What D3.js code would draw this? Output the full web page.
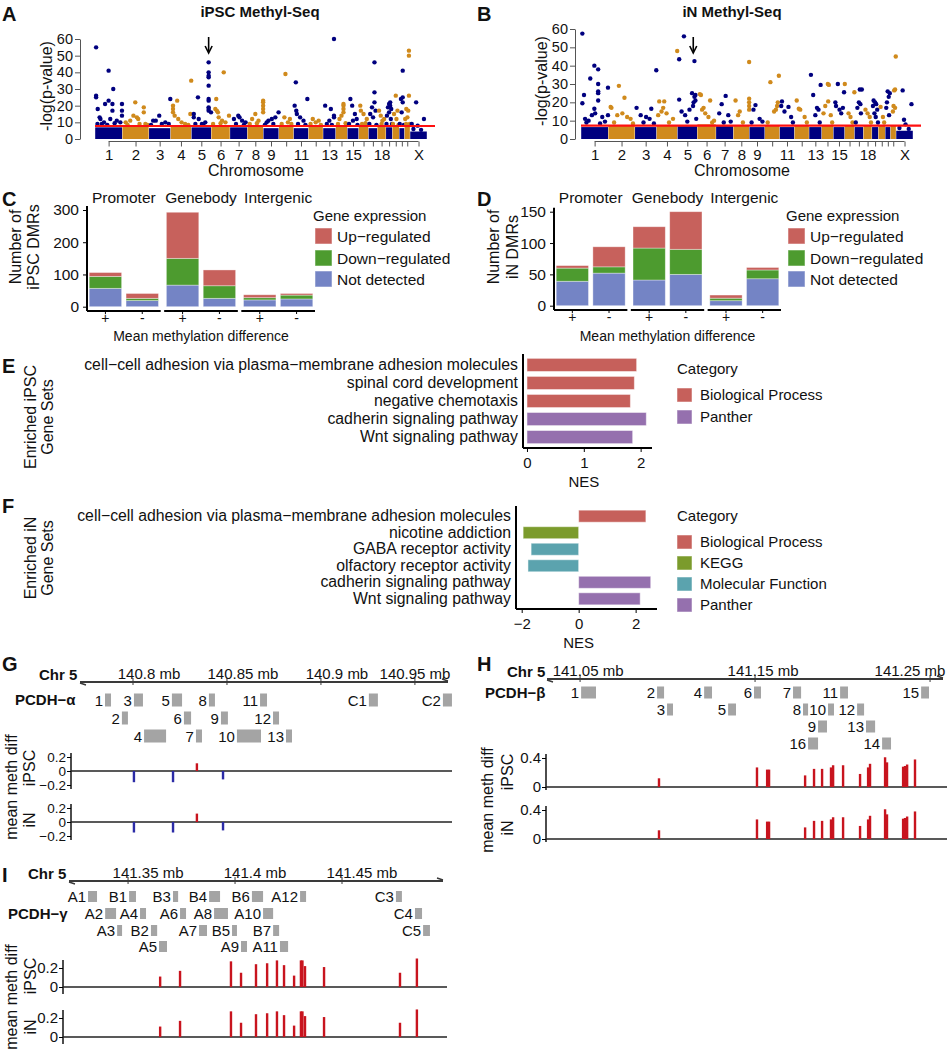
<!DOCTYPE html>
<html>
<head>
<meta charset="utf-8">
<script src="https://cdn.jsdelivr.net/npm/d3@7"></script>
<style>
  body { margin: 0; background: #fff; }
  svg { display: block; }
  text { font-family: "Liberation Sans", Arial, sans-serif; fill: #111; }
</style>
</head>
<body>
<svg id="fig" width="951" height="1050"></svg>
<script>
// ---------- data ----------
var chromNames = ["1","2","3","4","5","6","7","8","9","10","11","12","13","14","15","16","17","18","19","20","21","22","X"];
var chromLengths = [249,243,198,191,181,171,159,146,141,136,135,134,115,107,103,90,81,78,59,63,48,51,155];
var chromTickLabels = ["1","2","3","4","5","6","7","8","9","11","13","15","18","X"];

// top of the dense cloud of non-significant DMRs per chromosome
var ipscFloor = [7,8,6.5,8,7,8,7,8,6.5,7.5,6.5,7.5,6.5,8,6.5,8,6.5,7.5,7,8,6.5,8,4.5];
var inFloor   = [6.5,7.5,6.5,7.5,7,8,7,7.5,6.5,7.5,6.5,7.5,6.5,7.5,6.5,7.5,6.5,7.5,6.5,7.5,6.5,7.5,4.5];
var ipscThreshold = 7.8, inThreshold = 7.3;

// [chromosome index, position within chromosome (0-1), -log(p)]
var ipscHits = [
  [0,.04,55],[0,.04,26],[0,.04,25],[0,.1,18],[0,.5,41],[0,.67,30],[0,.5,23],[0,.37,21],[0,.64,21],[0,.64,17],[0,.56,12],[0,.2,12],[0,.8,11],[0,.93,10],[0,.33,10],[0,.17,13],[0,.09,9],[0,.99,21],[0,.99,17],[0,.99,14],
  [0,.25,9],[0,.45,8.5],[0,.72,9.5],
  [1,.49,22],[1,.81,19],[1,.81,16],[1,.42,14],[1,.55,13],[1,.6,12],[1,.3,11],[1,.13,10],[1,.87,9],[1,.2,8.5],[1,.65,9],[1,.95,8.5],
  [2,.48,14],[2,.2,11],[2,.76,10],[2,.92,9],[2,.32,11],[2,.99,24],[2,.1,8.5],[2,.6,9],
  [3,.32,23],[3,.12,20],[3,.12,18],[3,.12,16],[3,.2,14],[3,.37,12],[3,.53,10],[3,.99,35],[3,.95,15],[3,.7,9],[3,.85,8.5],
  [4,.33,25],[4,.87,46],[4,.87,40],[4,.87,38],[4,.87,37],[4,.87,32],[4,.87,24],[4,.87,23],[4,.87,19],[4,.87,18],[4,.87,17],[4,.99,16],[4,.12,15],[4,.12,13],[4,.37,12],[4,.53,9],[4,.7,10],[4,.2,9],[4,.6,8.5],
  [5,.67,40],[5,.27,24],[5,.22,18],[5,.3,17],[5,.36,16],[5,.95,14],[5,.4,13],[5,.58,11],[5,.76,10],[5,.1,9],[5,.5,9.5],
  [6,.48,14],[6,.55,13],[6,.23,12],[6,.7,11],[6,.9,10],[6,.35,9],[6,.8,8.5],
  [7,.99,23],[7,.99,22],[7,.99,20],[7,.99,18],[7,.99,16],[7,.5,15],[7,.3,12],[7,.7,11],[7,.15,9],[7,.6,9.5],
  [8,.99,16],[8,.78,13],[8,.55,12],[8,.33,11],[8,.22,10],[8,.1,8.5],[8,.65,9],
  [9,.45,39],[9,.38,13],[9,.75,12],[9,.62,10],[9,.2,9],[9,.85,9],
  [10,.15,34],[10,.07,20],[10,.18,17],[10,.22,15],[10,.44,13],[10,.93,24],[10,.67,11],[10,.3,9],[10,.8,8.5],
  [11,.3,12],[11,.7,11],[11,.5,10],[11,.15,9],[11,.85,8.5],
  [12,.87,60],[12,.17,20],[12,.62,18],[12,.87,14],[12,.87,13],[12,.5,11],[12,.3,9],[12,.7,8.5],
  [13,.67,21],[13,.67,20],[13,.67,18],[13,.67,16],[13,.5,14],[13,.33,12],[13,.2,9],[13,.85,9.5],
  [14,.27,24],[14,.43,20],[14,.67,15],[14,.83,12],[14,.5,11],[14,.15,9],[14,.9,8.5],
  [15,.17,20],[15,.23,17],[15,.5,15],[15,.83,12],[15,.35,9],[15,.7,9.5],
  [16,.68,46],[16,.68,28],[16,.68,22],[16,.4,19],[16,.8,17],[16,.2,15],[16,.52,13],[16,.1,9],[16,.9,8.5],
  [17,.2,17],[17,.4,14],[17,.8,12],[17,.6,11],[17,.5,9],
  [18,.67,22],[18,.5,21],[18,.67,20],[18,.33,19],[18,.83,18],[18,.5,16],[18,.17,14],[18,.77,12],[18,.1,9],[18,.95,9],
  [19,.5,26],[19,.75,17],[19,.25,15],[19,.6,12],[19,.1,9],[19,.9,8.5],
  [20,.67,41],[20,.67,25],[20,.33,24],[20,.67,22],[20,.47,16],[20,.1,9],[20,.9,8.5],
  [21,.8,53],[21,.8,50],[21,.8,26],[21,.33,18],[21,.67,17],[21,.53,13],[21,.13,12],[21,.3,9],[21,.95,9],
  [22,.36,22],[22,.82,12],[22,.45,8],[22,.1,9],[22,.2,6],[22,.65,5.5]
];
var inHits = [
  [0,.05,57.5],[0,.11,24],[0,.05,19.5],[0,.49,40],[0,.63,38],[0,.34,33],[0,.63,30],[0,.63,26],[0,.63,25],[0,.63,21],[0,.49,16.5],[0,.52,14],[0,.4,13],[0,.78,12],[0,.15,11],[0,.28,10],[0,.99,28],[0,.99,13],[0,.2,9],[0,.7,8.5],[0,.88,9.5],
  [1,.4,29],[1,.61,22.5],[1,.09,17.5],[1,.12,17],[1,.53,14],[1,.34,13],[1,.71,12],[1,.84,11],[1,.22,9],[1,.93,8.5],
  [2,.08,17],[2,.76,16.5],[2,.27,13],[2,.52,12],[2,.68,11],[2,.99,37.5],[2,.4,9],[2,.88,8.5],
  [3,.13,20.5],[3,.37,20.5],[3,.32,17],[3,.24,15],[3,.48,14],[3,.08,13],[3,.79,11],[3,.99,48],[3,.6,9],
  [4,.09,43.5],[4,.33,56],[4,.86,42.5],[4,.74,25],[4,.91,24],[4,.86,23],[4,.91,21],[4,.82,20],[4,.79,18],[4,.61,16],[4,.21,15],[4,.09,21.5],[4,.39,13],[4,.5,9.5],[4,.95,11],
  [5,.14,24.5],[5,.2,24],[5,.69,21],[5,.34,17],[5,.26,16],[5,.43,14],[5,.6,12],[5,.8,9],[5,.9,10],
  [6,.56,23.5],[6,.33,19],[6,.19,14],[6,.71,13],[6,.45,9],[6,.85,9.5],
  [7,.14,21],[7,.4,15],[7,.3,13],[7,.99,42],[7,.99,22],[7,.99,20],[7,.99,18],[7,.99,16],[7,.6,9],
  [8,.4,18.5],[8,.27,16],[8,.67,11],[8,.15,9],[8,.85,9.5],
  [9,.38,31],[9,.95,34.5],[9,.88,20],[9,.83,18],[9,.75,16],[9,.63,15],[9,.2,9],
  [10,.16,20.5],[10,.11,18],[10,.6,17.5],[10,.33,15],[10,.78,12],[10,.9,9],
  [11,.16,21],[11,.3,16.5],[11,.4,16],[11,.7,12],[11,.85,9],
  [12,.15,35],[12,.33,24],[12,.63,17],[12,.75,16],[12,.5,13],[12,.92,29.5],[12,.85,9],
  [13,.53,30],[13,.62,29.5],[13,.56,20.5],[13,.31,18],[13,.16,14],[13,.78,13],[13,.9,9],
  [14,.4,30],[14,.18,20],[14,.24,18],[14,.55,16],[14,.7,14],[14,.95,25.5],[14,.85,17],
  [15,.02,30],[15,.4,14],[15,.6,12],[15,.99,25.5],[15,.8,9],
  [16,.6,27],[16,.83,27],[16,.5,20],[16,.67,19],[16,.33,17],[16,.73,14],[16,.15,9],
  [17,.25,16],[17,.5,14],[17,.75,12],[17,.9,9],
  [18,.27,21],[18,.5,20],[18,.67,19],[18,.17,18],[18,.83,16],[18,.4,14],[18,.6,12],[18,.95,9],
  [19,.33,17.5],[19,.67,12],[19,.85,9],
  [20,.47,26],[20,.87,25],[20,.67,23],[20,.33,20],[20,.2,17],[20,.73,13],
  [21,.95,45],[21,.83,27],[21,.67,26.5],[21,.55,18],[21,.83,17],[21,.44,15],
  [22,.39,26.5],[22,.91,19],[22,.47,10.5],[22,.56,8],[22,.2,6],[22,.75,5.5]
];
// where the arrow points (PCDH cluster on chr 5)
var ipscArrow = [4, 0.87], inArrow = [4, 0.8];

// DMR counts, order: Promoter +, Promoter -, Genebody +, Genebody -, Intergenic +, Intergenic -
var regions = ["Promoter", "Genebody", "Intergenic"];
var directions = ["+", "-"];
var ipscNotDetected = [57, 19, 67, 26, 21, 24];
var ipscDown        = [37,  7, 83, 39,  7, 12];
var ipscUp          = [12, 15, 143, 49, 9,  5];
var inNotDetected   = [39, 52, 41, 50,  8, 43];
var inDown          = [21, 10, 51, 40,  4, 14];
var inUp            = [ 4, 32, 34, 60,  5,  4];

// GSEA
var ipscSets = ["cell\u2212cell adhesion via plasma\u2212membrane adhesion molecules", "spinal cord development", "negative chemotaxis", "cadherin signaling pathway", "Wnt signaling pathway"];
var ipscNES = [1.93, 1.89, 1.82, 2.10, 1.86];
var ipscCategory = ["Biological Process", "Biological Process", "Biological Process", "Panther", "Panther"];
var inSets = ["cell\u2212cell adhesion via plasma\u2212membrane adhesion molecules", "nicotine addiction", "GABA receptor activity", "olfactory receptor activity", "cadherin signaling pathway", "Wnt signaling pathway"];
var inNES = [2.36, -1.95, -1.67, -1.78, 2.53, 2.16];
var inCategory = ["Biological Process", "KEGG", "Molecular Function", "Molecular Function", "Panther", "Panther"];

// PCDH loci: [name, start mb, end mb, row]
var alphaGenes = [
  ["1",140.7851,140.7883,0],["3",140.8005,140.8053,0],["5",140.8207,140.8261,0],["8",140.8404,140.8436,0],["11",140.8676,140.8713,0],["C1",140.9255,140.9303,0],["C2",140.9649,140.9697,0],
  ["2",140.7941,140.7973,1],["6",140.8271,140.8309,1],["9",140.8468,140.8505,1],["12",140.8745,140.8777,1],
  ["4",140.8059,140.8176,2],["7",140.8335,140.8367,2],["10",140.8553,140.8681,2],["13",140.8814,140.8846,2]
];
var betaGenes = [
  ["1",141.0506,141.0591,0],["2",141.0940,141.0980,0],["4",141.1209,141.1254,0],["6",141.1494,141.1534,0],["7",141.1717,141.1763,0],["11",141.1986,141.2031,0],["15",141.2449,141.2494,0],
  ["3",141.0997,141.1031,1],["5",141.1346,141.1391,1],["8",141.1774,141.1803,1],["10",141.1917,141.1951,1],["12",141.2083,141.2123,1],
  ["9",141.1860,141.1911,2],["13",141.2134,141.2186,2],
  ["16",141.1803,141.1860,3],["14",141.2226,141.2277,3]
];
var gammaGenes = [
  ["A1",141.3313,141.3355,0],["B1",141.3505,141.3537,0],["B3",141.3710,141.3734,0],["B4",141.3879,141.3930,0],["B6",141.4079,141.4131,0],["A12",141.4304,141.4332,0],["C3",141.4752,141.4780,0],
  ["A2",141.3393,141.3444,1],["A4",141.3556,141.3584,1],["A6",141.3743,141.3771,1],["A8",141.3902,141.3967,1],["A10",141.4131,141.4178,1],["C4",141.4841,141.4874,1],
  ["A3",141.3449,141.3472,2],["B2",141.3607,141.3636,2],["A7",141.3832,141.3869,2],["B5",141.3986,141.4009,2],["B7",141.4178,141.4206,2],["C5",141.4879,141.4911,2],
  ["A5",141.3645,141.3682,3],["A9",141.4028,141.4056,3],["A11",141.4210,141.4248,3]
];
var alphaTicks = [140.8, 140.85, 140.9, 140.95];
var betaTicks = [141.05, 141.15, 141.25];
var gammaTicks = [141.35, 141.4, 141.45];

// mean methylation difference per DMR
var alphaDmr  = [140.8005, 140.8213, 140.8340, 140.8479];
var alphaIpsc = [-0.16, -0.16, 0.11, -0.12];
var alphaIn   = [-0.15, -0.15, 0.12, -0.12];
var betaDmr  = [141.0951,141.1511,141.1569,141.1580,141.1786,141.1837,141.1883,141.1934,141.1946,141.2003,141.2100,141.2146,141.2157,141.2243,141.2254,141.2346,141.2357,141.2369,141.2414];
var betaIpsc = [0.12,0.27,0.24,0.24,0.16,0.25,0.25,0.27,0.30,0.30,0.18,0.27,0.32,0.41,0.34,0.28,0.29,0.31,0.38];
var betaIn   = [0.12,0.27,0.24,0.24,0.16,0.25,0.25,0.27,0.30,0.30,0.18,0.27,0.32,0.41,0.34,0.28,0.29,0.31,0.38];
var gammaDmr  = [141.3650,141.3743,141.3981,141.4028,141.4098,141.4150,141.4196,141.4229,141.4276,141.4308,141.4315,141.4327,141.4416,141.4771,141.4850];
var gammaIpsc = [0.11,0.17,0.27,0.15,0.24,0.25,0.28,0.23,0.12,0.28,0.28,0.22,0.21,0.15,0.30];
var gammaIn   = [0.11,0.17,0.27,0.15,0.24,0.25,0.27,0.23,0.12,0.27,0.27,0.22,0.21,0.15,0.29];

// ---------- drawing ----------
var svg = d3.select("#fig");
var navy = "#00007f", orange = "#d08a1c";
var exprColors = { nd: "#7484c5", down: "#4d9b2f", up: "#c7615c" };
var catColors = { "Biological Process": "#c6605b", "KEGG": "#7b9b2c", "Molecular Function": "#5ba3ae", "Panther": "#9570ae" };

function label(g, x, y, str, size, anchor, weight) {
  return g.append("text").attr("x", x).attr("y", y).attr("font-size", size)
    .attr("text-anchor", anchor || "start").attr("font-weight", weight || "normal").text(str);
}
function vlabel(g, x, y, str, size) {
  return g.append("text").attr("transform", "translate(" + x + "," + y + ") rotate(-90)")
    .attr("font-size", size).attr("text-anchor", "middle").attr("dy", "0.35em").text(str);
}
function styleAxis(a, size) {
  a.attr("font-family", null).attr("font-size", size);
  a.selectAll("text").attr("fill", "#111");
}

// panel letters
[["A",2,21],["B",477,21],["C",2,206],["D",477,206],["E",2,373],["F",2,513],["G",2,671],["H",477,671],["I",2,882]].forEach(function(p) {
  label(svg, p[1], p[2], p[0], 20, "start", "bold");
});

// Manhattan plots
function drawManhattan(o) {
  var g = svg.append("g");
  var ends = Array.from(d3.cumsum(chromLengths));
  var starts = ends.map(function(e, i) { return e - chromLengths[i]; });
  var x = d3.scaleLinear().domain([0, d3.sum(chromLengths)]).range([o.x0, o.x1]);
  var y = d3.scaleLinear().domain([0, 60]).range([o.yBase, o.yTop]);
  var pos = function(c, f) { return x(starts[c] + f * chromLengths[c]); };

  label(g, o.titleX, 17, o.title, 15, "middle", "bold");

  g.selectAll("rect.cloud").data(o.floor).join("rect").attr("class", "cloud")
    .attr("x", function(d, i) { return x(starts[i]) + 0.2; })
    .attr("width", function(d, i) { return x(ends[i]) - x(starts[i]) - 0.4; })
    .attr("y", function(d) { return y(d); })
    .attr("height", function(d) { return y(0) - y(d); })
    .attr("fill", function(d, i) { return i % 2 ? orange : navy; });

  g.selectAll("circle").data(o.hits).join("circle")
    .attr("cx", function(d) { return pos(d[0], d[1]); })
    .attr("cy", function(d) { return y(d[2]); })
    .attr("r", 2.2)
    .attr("fill", function(d) { return d[0] % 2 ? orange : navy; });

  g.append("line").attr("x1", o.x0).attr("x2", o.x1 + 8)
    .attr("y1", y(o.threshold)).attr("y2", y(o.threshold))
    .attr("stroke", "#ff1010").attr("stroke-width", 2.2);

  // arrow to the PCDH locus
  var ax = pos(o.arrow[0], o.arrow[1]);
  g.append("line").attr("x1", ax).attr("x2", ax).attr("y1", 37).attr("y2", 51)
    .attr("stroke", "#000").attr("stroke-width", 1.6);
  g.append("path").attr("d", "M" + (ax - 3.5) + ",46L" + ax + ",53L" + (ax + 3.5) + ",46")
    .attr("fill", "none").attr("stroke", "#000").attr("stroke-width", 1.6);

  var ya = g.append("g").attr("transform", "translate(" + o.axisX + ",0)")
    .call(d3.axisLeft(y).tickValues(d3.range(0, 61, 10)).tickSize(5).tickSizeOuter(0).tickPadding(2));
  styleAxis(ya, 14.5);
  ya.select(".domain").attr("stroke", "#555");
  ya.selectAll(".tick line").attr("stroke", "#555");

  var centers = chromNames.map(function(n, i) { return (starts[i] + ends[i]) / 2; });
  var xa = g.append("g").attr("transform", "translate(0," + (o.yBase + 2.5) + ")")
    .call(d3.axisBottom(x).tickValues(centers).tickSize(5).tickSizeOuter(0).tickPadding(3)
      .tickFormat(function(d, i) { return chromTickLabels.indexOf(chromNames[i]) >= 0 ? chromNames[i] : ""; }));
  styleAxis(xa, 15);
  xa.select(".domain").attr("d", "M" + x(centers[0]) + ",0H" + x(centers[centers.length - 1])).attr("stroke", "#555");
  xa.selectAll(".tick line").attr("stroke", "#555");

  label(g, (o.x0 + o.x1) / 2 - 5, o.yBase + 37, "Chromosome", 16, "middle");
  vlabel(g, o.axisX - 34, (o.yTop + o.yBase) / 2 - 3, "-log(p-value)", 16);
}
drawManhattan({ title: "iPSC Methyl-Seq", titleX: 260, x0: 95, x1: 427, yBase: 139, yTop: 39, axisX: 80,
  floor: ipscFloor, hits: ipscHits, threshold: ipscThreshold, arrow: ipscArrow });
drawManhattan({ title: "iN Methyl-Seq", titleX: 732, x0: 581, x1: 913, yBase: 139, yTop: 29, axisX: 575,
  floor: inFloor, hits: inHits, threshold: inThreshold, arrow: inArrow });

// stacked DMR bars
function drawStacked(o) {
  var g = svg.append("g");
  var fx = d3.scaleBand().domain(regions).range([o.x0, o.x1]).paddingInner(0.045);
  var bx = d3.scaleBand().domain(directions).range([0, fx.bandwidth()]).paddingInner(0.12).paddingOuter(0.06);
  var y = d3.scaleLinear().domain([0, o.max]).range([o.yZero, o.yTop]);
  var rows = [];
  regions.forEach(function(r, ri) {
    directions.forEach(function(d, di) {
      var k = ri * 2 + di;
      rows.push({ region: r, dir: d, nd: o.nd[k], down: o.down[k], up: o.up[k] });
    });
  });
  var series = d3.stack().keys(["nd", "down", "up"])(rows);
  series.forEach(function(s) {
    g.selectAll("rect." + s.key).data(s).join("rect").attr("class", s.key)
      .attr("x", function(d) { return fx(d.data.region) + bx(d.data.dir); })
      .attr("width", bx.bandwidth())
      .attr("y", function(d) { return y(d[1]); })
      .attr("height", function(d) { return y(d[0]) - y(d[1]); })
      .attr("fill", exprColors[s.key])
      .attr("stroke", "#fff").attr("stroke-opacity", 0.45).attr("stroke-width", 0.8);
  });
  regions.forEach(function(r) {
    label(g, fx(r) + fx.bandwidth() / 2, 203, r, 15.5, "middle");
    var xa = g.append("g").attr("transform", "translate(" + fx(r) + "," + o.axisY + ")")
      .call(d3.axisBottom(bx).tickSize(3).tickSizeOuter(0).tickPadding(-1));
    styleAxis(xa, 14);
    xa.select(".domain").attr("d", "M0,0H" + fx.bandwidth()).attr("stroke-width", 2);
  });
  var ya = g.append("g").attr("transform", "translate(" + o.x0 + ",0)")
    .call(d3.axisLeft(y).tickValues(o.ticks).tickSize(4).tickSizeOuter(0).tickPadding(4));
  styleAxis(ya, 15.5);
  ya.select(".domain").attr("d", "M0," + (o.yTop - 4) + "V" + o.axisY).attr("stroke-width", 2);

  label(g, (o.x0 + o.x1) / 2, 341, "Mean methylation difference", 14, "middle");
  vlabel(g, o.x0 + o.ylabDx[0], 247, "Number of", 16);
  vlabel(g, o.x0 + o.ylabDx[1], 247, o.sample + " DMRs", 16);

  // legend
  var lg = g.append("g").attr("transform", "translate(" + o.legendX + ",0)");
  label(lg, -2, 221, "Gene expression", 15);
  [["up", "Up\u2212regulated", 228], ["down", "Down\u2212regulated", 250], ["nd", "Not detected", 271]].forEach(function(k) {
    lg.append("rect").attr("x", 0).attr("y", k[2]).attr("width", 17).attr("height", 16)
      .attr("fill", exprColors[k[0]]).attr("stroke", "#fff").attr("stroke-opacity", 0.5);
    label(lg, 22, k[2] + 13.5, k[1], 15.5);
  });
}
drawStacked({ x0: 87, x1: 315, yZero: 306.7, yTop: 210, max: 300, ticks: [0, 100, 200, 300], axisY: 311,
  nd: ipscNotDetected, down: ipscDown, up: ipscUp, sample: "iPSC", legendX: 315, ylabDx: [-72, -54] });
drawStacked({ x0: 554, x1: 781, yZero: 305.7, yTop: 211.7, max: 150, ticks: [0, 50, 100, 150], axisY: 310,
  nd: inNotDetected, down: inDown, up: inUp, sample: "iN", legendX: 788, ylabDx: [-61, -42] });

// GSEA bars
function drawGsea(o) {
  var g = svg.append("g");
  var y = d3.scaleBand().domain(o.sets).range([o.yTop, o.yBottom]).paddingInner(0.27).paddingOuter(0.13);
  var x = d3.scaleLinear().domain(o.domain).range([o.x0, o.x1]);
  g.selectAll("rect").data(o.nes).join("rect")
    .attr("x", function(d) { return x(Math.min(0, d)); })
    .attr("width", function(d) { return Math.abs(x(d) - x(0)); })
    .attr("y", function(d, i) { return y(o.sets[i]); })
    .attr("height", y.bandwidth())
    .attr("fill", function(d, i) { return catColors[o.cats[i]]; })
    .attr("stroke", "#fff").attr("stroke-opacity", 0.5);
  var ya = g.append("g").attr("transform", "translate(" + o.x0 + ",0)")
    .call(d3.axisLeft(y).tickSize(0).tickPadding(5));
  styleAxis(ya, 15.8);
  ya.select(".domain").attr("d", "M0," + (o.yTop - 2) + "V" + o.axisY).attr("stroke-width", 2);
  var xa = g.append("g").attr("transform", "translate(0," + o.axisY + ")")
    .call(d3.axisBottom(x).tickValues(o.ticks).tickSize(4).tickSizeOuter(0).tickPadding(5)
      .tickFormat(function(d) { return d < 0 ? "\u2212" + (-d) : d; }));
  styleAxis(xa, 15);
  xa.select(".domain").attr("d", "M" + o.x0 + ",0H" + o.x1).attr("stroke-width", 2);
  label(g, x(o.ticks[1]), o.axisY + 39, "NES", 15, "middle");
  vlabel(g, 30, o.labelY, o.ylab1, 16);
  vlabel(g, 47, o.labelY, "Gene Sets", 16);

  label(g, 677, o.legendY, "Category", 15);
  o.legend.forEach(function(c, i) {
    var ky = o.legendY + 14 + i * o.legendStep;
    g.append("rect").attr("x", 677).attr("y", ky).attr("width", 15).attr("height", 14)
      .attr("fill", catColors[c]).attr("stroke", "#fff").attr("stroke-opacity", 0.5);
    label(g, 700, ky + 12, c, 15);
  });
}
drawGsea({ sets: ipscSets, nes: ipscNES, cats: ipscCategory, domain: [-0.07, 2.2], x0: 523, x1: 652,
  yTop: 356, yBottom: 446, axisY: 448, ticks: [0, 1, 2], labelY: 417, ylab1: "Enriched iPSC",
  legend: ["Biological Process", "Panther"], legendY: 374, legendStep: 22 });
drawGsea({ sets: inSets, nes: inNES, cats: inCategory, domain: [-2.2, 2.75], x0: 516, x1: 657,
  yTop: 508, yBottom: 607, axisY: 609, ticks: [-2, 0, 2], labelY: 558, ylab1: "Enriched iN",
  legend: ["Biological Process", "KEGG", "Molecular Function", "Panther"], legendY: 521, legendStep: 21 });

// PCDH loci
function drawLocus(o) {
  var g = svg.append("g");
  var x = d3.scaleLinear().domain(o.domain).range([o.x0, o.x1]);
  label(g, o.chrX, o.lineY - 2, "Chr 5", 15, "start", "bold");
  g.append("line").attr("x1", o.x0).attr("x2", o.x1).attr("y1", o.lineY).attr("y2", o.lineY)
    .attr("stroke", "#3a3a3a").attr("stroke-width", 2.2);
  g.append("path").attr("d", "M" + (o.x0 + 6) + "," + (o.lineY + 3) + "L" + o.x0 + "," + (o.lineY + 1) +
      "M" + (o.x1 - 6) + "," + (o.lineY - 3) + "L" + o.x1 + "," + (o.lineY - 1))
    .attr("stroke", "#3a3a3a").attr("stroke-width", 1.4).attr("fill", "none");
  o.ticks.forEach(function(t) {
    g.append("line").attr("x1", x(t)).attr("x2", x(t)).attr("y1", o.lineY - 4).attr("y2", o.lineY + 3)
      .attr("stroke", "#3a3a3a").attr("stroke-width", 1);
    var cx = Math.min(x(t) + o.labelShift, o.x1 - 33);
    label(g, cx, o.lineY - 3, t + " mb", 15, "middle");
  });
  label(g, o.clusterX, o.rowY[o.clusterRow] + 5, o.cluster, 15, "start", "bold");

  g.selectAll("rect.gene").data(o.genes).join("rect").attr("class", "gene")
    .attr("x", function(d) { return x(d[1]); })
    .attr("width", function(d) { return x(d[2]) - x(d[1]); })
    .attr("y", function(d) { return o.rowY[d[3]] - o.boxH / 2; })
    .attr("height", o.boxH)
    .attr("fill", "#a4a4a4");
  g.selectAll("text.gene").data(o.genes).join("text").attr("class", "gene")
    .attr("x", function(d) { return x(d[1]) - 2; })
    .attr("y", function(d) { return o.rowY[d[3]] + 5.5; })
    .attr("text-anchor", "end").attr("font-size", 15)
    .text(function(d) { return d[0]; });

  o.tracks.forEach(function(tr) {
    var y = d3.scaleLinear().domain([0, o.tickStep]).range([tr.zero, tr.zero - o.stepPx]);
    var ya = g.append("g").attr("transform", "translate(" + o.trackAxisX + ",0)")
      .call(d3.axisLeft(y).tickValues(o.trackTicks).tickSize(4).tickSizeOuter(0).tickPadding(1)
        .tickFormat(function(d) { return d < 0 ? "\u2212" + (-d) : d; }));
    styleAxis(ya, o.tickFont);
    ya.select(".domain").attr("d", "M0," + (tr.zero - o.axisUp) + "V" + (tr.zero + o.axisDown)).attr("stroke-width", 1.4);
    g.append("line").attr("x1", o.trackAxisX).attr("x2", o.x1 + 4).attr("y1", tr.zero).attr("y2", tr.zero)
      .attr("stroke", "#222").attr("stroke-width", 1.5);
    g.selectAll("rect.dmr" + tr.name).data(tr.values).join("rect").attr("class", "dmr" + tr.name)
      .attr("x", function(d, i) { return x(o.dmr[i]) - 1.2; })
      .attr("width", 2.4)
      .attr("y", function(d) { return Math.min(y(d), y(0)); })
      .attr("height", function(d) { return Math.abs(y(d) - y(0)); })
      .attr("fill", function(d) { return d >= 0 ? "#c8141e" : "#2b2ba6"; });
    vlabel(g, o.sampleX, tr.labelY, tr.name, 16);
  });
  vlabel(g, o.methX, o.methY, "mean meth diff", 16);
}
drawLocus({ domain: [140.7718, 140.9676], x0: 80, x1: 448, lineY: 682, chrX: 39, ticks: alphaTicks, labelShift: 16,
  cluster: "PCDH\u2212\u03b1", clusterX: 15, clusterRow: 0, genes: alphaGenes, rowY: [700, 718, 736], boxH: 13,
  dmr: alphaDmr, tickStep: 0.2, stepPx: 14, trackTicks: [-0.2, 0, 0.2], trackAxisX: 71, axisUp: 18, axisDown: 18,
  tickFont: 13.5, sampleX: 29,
  tracks: [{ name: "iPSC", zero: 771, values: alphaIpsc, labelY: 768 }, { name: "iN", zero: 822, values: alphaIn, labelY: 820 }],
  methX: 11, methY: 787 });
drawLocus({ domain: [141.0311, 141.2574], x0: 547, x1: 943, lineY: 679, chrX: 507, ticks: betaTicks, labelShift: 8,
  cluster: "PCDH\u2212\u03b2", clusterX: 485, clusterRow: 0, genes: betaGenes, rowY: [692.5, 709.5, 726.5, 743.5], boxH: 12,
  dmr: betaDmr, tickStep: 0.4, stepPx: 29, trackTicks: [0, 0.4], trackAxisX: 546, axisUp: 33, axisDown: 3,
  tickFont: 15, sampleX: 507,
  tracks: [{ name: "iPSC", zero: 787, values: betaIpsc, labelY: 772 }, { name: "iN", zero: 839, values: betaIn, labelY: 828 }],
  methX: 487, methY: 800 });
drawLocus({ domain: [141.3224, 141.4972], x0: 69, x1: 443, lineY: 881, chrX: 28, ticks: gammaTicks, labelShift: 20,
  cluster: "PCDH\u2212\u03b3", clusterX: 8, clusterRow: 1, genes: gammaGenes, rowY: [896.5, 913.5, 930.5, 946.5], boxH: 11,
  dmr: gammaDmr, tickStep: 0.2, stepPx: 19, trackTicks: [0, 0.2], trackAxisX: 63, axisUp: 27, axisDown: 7,
  tickFont: 15, sampleX: 30,
  tracks: [{ name: "iPSC", zero: 987, values: gammaIpsc, labelY: 976 }, { name: "iN", zero: 1037, values: gammaIn, labelY: 1027 }],
  methX: 11, methY: 997 });
</script>
</body>
</html>
